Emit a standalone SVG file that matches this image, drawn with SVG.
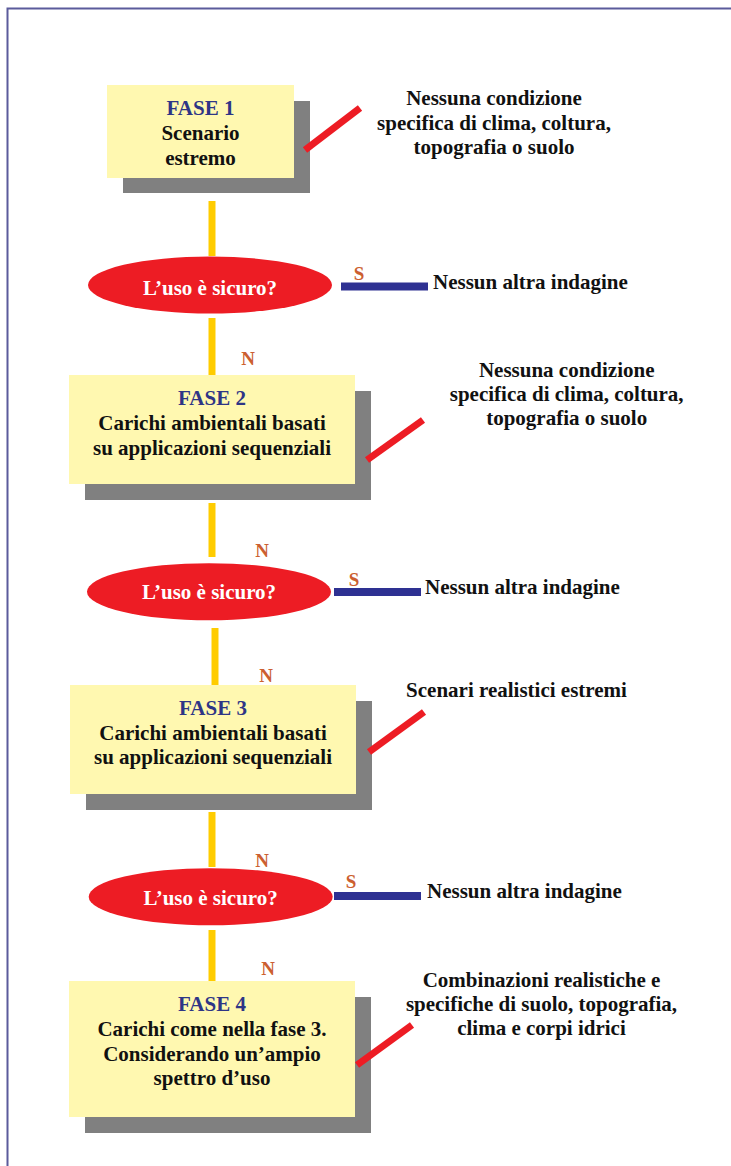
<svg xmlns="http://www.w3.org/2000/svg" width="731" height="1166" viewBox="0 0 731 1166">
<style>
text{font-family:"Liberation Serif","Times New Roman",serif;font-weight:bold;font-size:21px;text-anchor:middle;fill:#111}
.t{fill:#2e3586}
.w{fill:#ffffff}
.lbl{fill:#cc5f30;font-size:19px}
.left{text-anchor:start}
.box{fill:#fff8b0}
.sh{fill:#808080}
.q{fill:#ed1c24}
.y{stroke:#ffcc00;stroke-width:7;fill:none}
.b{stroke:#2e3192;stroke-width:8;fill:none}
.r{stroke:#ed1c24;stroke-width:7;fill:none}
</style>
<rect width="731" height="1166" fill="#ffffff"/>
<path d="M7.5,1166 V8.5 H731" fill="none" stroke="#5b5b9b" stroke-width="2"/>

<g id="connectors">
<line class="y" x1="212" y1="201" x2="212" y2="256"/>
<line class="y" x1="212" y1="318" x2="212" y2="375"/>
<line class="y" x1="212" y1="503" x2="212" y2="557"/>
<line class="y" x1="215" y1="628" x2="215" y2="685"/>
<line class="y" x1="212" y1="812" x2="212" y2="867"/>
<line class="y" x1="212" y1="930" x2="212" y2="981"/>
<line class="b" x1="341" y1="286.5" x2="428" y2="286.5"/>
<line class="b" x1="334" y1="592" x2="421" y2="592"/>
<line class="b" x1="334" y1="896" x2="421" y2="896"/>
<text class="lbl" x="359" y="280">S</text>
<text class="lbl" x="248" y="365">N</text>
<text class="lbl" x="262" y="557">N</text>
<text class="lbl" x="354" y="586">S</text>
<text class="lbl" x="266" y="682">N</text>
<text class="lbl" x="262" y="867">N</text>
<text class="lbl" x="351" y="888">S</text>
<text class="lbl" x="268" y="975">N</text>
</g>

<g id="fase1">
<rect class="sh" x="123" y="101" width="187" height="92"/>
<rect class="box" x="107" y="85" width="187" height="93"/>
<text class="t" x="200.5" y="115">FASE 1</text>
<text x="200.5" y="140">Scenario</text>
<text x="200.5" y="165">estremo</text>
</g>

<g id="q1">
<ellipse class="q" cx="210" cy="285" rx="122" ry="28.5"/>
<text class="w" x="210" y="295">L’uso è sicuro?</text>
</g>

<g id="fase2">
<rect class="sh" x="85" y="391" width="286" height="109"/>
<rect class="box" x="69" y="375" width="286" height="109"/>
<text class="t" x="212" y="405">FASE 2</text>
<text x="212" y="430">Carichi ambientali basati</text>
<text x="212" y="455">su applicazioni sequenziali</text>
</g>

<g id="q2">
<ellipse class="q" cx="209" cy="591.7" rx="122" ry="28.5"/>
<text class="w" x="209" y="598.5">L’uso è sicuro?</text>
</g>

<g id="fase3">
<rect class="sh" x="86" y="701" width="286" height="109"/>
<rect class="box" x="70" y="685" width="286" height="109"/>
<text class="t" x="213" y="715">FASE 3</text>
<text x="213" y="740">Carichi ambientali basati</text>
<text x="213" y="764">su applicazioni sequenziali</text>
</g>

<g id="q3">
<ellipse class="q" cx="210.7" cy="896.7" rx="122" ry="28.5"/>
<text class="w" x="210.7" y="905">L’uso è sicuro?</text>
</g>

<g id="fase4">
<rect class="sh" x="85" y="997" width="286" height="136"/>
<rect class="box" x="69" y="981" width="286" height="136"/>
<text class="t" x="212" y="1011">FASE 4</text>
<text x="212" y="1036">Carichi come nella fase 3.</text>
<text x="212" y="1061">Considerando un’ampio</text>
<text x="212" y="1085">spettro d’uso</text>
</g>

<g id="notes">
<line class="r" x1="305" y1="150" x2="360" y2="108"/>
<line class="r" x1="367" y1="460" x2="423" y2="420"/>
<line class="r" x1="369" y1="752" x2="424" y2="712"/>
<line class="r" x1="357" y1="1065" x2="412" y2="1025"/>
</g>

<g id="note1">
<text x="494" y="105">Nessuna condizione</text>
<text x="494" y="130">specifica di clima, coltura,</text>
<text x="494" y="154">topografia o suolo</text>
</g>
<g id="note2">
<text x="566.7" y="377">Nessuna condizione</text>
<text x="566.7" y="401">specifica di clima, coltura,</text>
<text x="566.7" y="425">topografia o suolo</text>
</g>
<g id="note3">
<text x="516.5" y="697">Scenari realistici estremi</text>
</g>
<g id="note4">
<text x="541.5" y="987">Combinazioni realistiche e</text>
<text x="541.5" y="1011">specifiche di suolo, topografia,</text>
<text x="541.5" y="1035">clima e corpi idrici</text>
</g>
<g id="end1"><text class="left" x="433" y="288.5">Nessun altra indagine</text></g>
<g id="end2"><text class="left" x="425" y="593.5">Nessun altra indagine</text></g>
<g id="end3"><text class="left" x="427" y="897.5">Nessun altra indagine</text></g>
</svg>
